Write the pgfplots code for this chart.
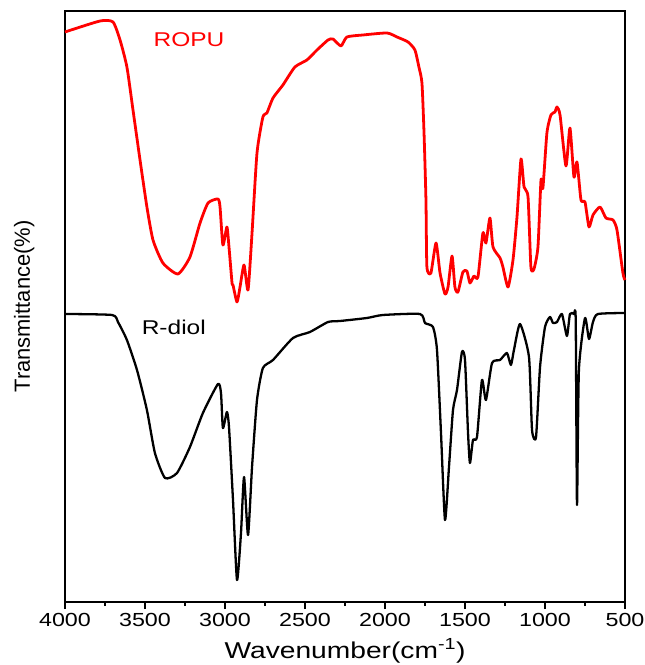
\documentclass[border=0pt]{standalone}
\usepackage{fontspec}
\setmainfont{Liberation Sans}[FakeStretch=1.23]
\newfontfamily\plainsans{Liberation Sans}
\usepackage{pgfplots}
\pgfplotsset{compat=1.18}
\begin{document}
\begin{tikzpicture}
\path[use as bounding box] (-65bp,-63bp) rectangle (580bp,602bp);
\begin{axis}[
  at={(0,0)}, anchor=south west,
  scale only axis, width=560bp, height=591bp,
  x dir=reverse, xmin=500, xmax=4000, ymin=0, ymax=591,
  xtick={500,1000,...,4000}, minor x tick num=1,
  ytick=\empty,
  tick align=outside, xtick pos=bottom,
  major tick length=7bp, minor tick length=4bp,
  every tick/.style={black, line width=1.4pt},
  axis line style={line width=1.6pt},
  /pgf/number format/assume math mode=true,
  /pgf/number format/1000 sep={},
  xticklabel style={font=\fontsize{19}{21}\selectfont, yshift=-1bp},
  xlabel={Wavenumber(cm\textsuperscript{-1})},
  xlabel style={font=\fontsize{23}{25}\selectfont, yshift=-5bp},
  ylabel={\plainsans Transmittance(\%)},
  ylabel style={font=\fontsize{22}{24}\selectfont, yshift=20bp},
  clip=false,
]
\addplot[red, line width=2.8pt, line join=round, smooth, tension=0.35] coordinates {
(4000,570) (3781,581) (3700,580) (3656,562) (3613,535) (3575,492) (3531,442)
(3488,395) (3450,362) (3388,339) (3294,328) (3219,345) (3156,379) (3106,399)
(3044,403) (3031,395) (3013,357) (2988,375) (2975,355) (2956,319) (2950,317)
(2925,300) (2906,315) (2881,337) (2856,312) (2831,369) (2800,449) (2763,485)
(2738,489) (2700,504) (2638,517) (2563,535) (2488,542) (2425,552) (2356,562)
(2325,563) (2275,556) (2238,565) (2138,567) (1988,569) (1925,565) (1856,560)
(1813,552) (1788,535) (1769,519) (1756,469) (1744,402) (1738,335) (1713,329)
(1681,359) (1656,329) (1625,308) (1606,315) (1581,346) (1563,315) (1544,310)
(1513,330) (1488,331) (1469,319) (1444,326) (1419,325) (1388,369) (1369,359)
(1344,384) (1325,355) (1281,344) (1263,335) (1231,315) (1200,342) (1175,385)
(1150,443) (1131,415) (1106,405) (1088,335) (1069,333) (1044,355) (1025,422)
(1013,414) (988,469) (963,487) (938,490) (925,495) (906,487) (869,436)
(844,474) (819,425) (800,440) (775,402) (750,400) (725,375) (700,387)
(656,395) (619,384) (575,382) (550,372) (513,329) (500,322)
};
\addplot[black, line width=2.3pt, line join=round, smooth, tension=0.35] coordinates {
(4000,288) (3706,287) (3669,280) (3613,262) (3550,232) (3488,192) (3438,149)
(3375,124) (3300,129) (3219,155) (3138,189) (3044,218) (3025,209) (3013,174)
(2988,190) (2975,175) (2950,102) (2925,22) (2900,69) (2881,125) (2856,67)
(2831,135) (2800,202) (2763,234) (2700,242) (2575,264) (2469,270) (2356,280)
(2281,281) (2113,284) (2013,287) (1781,288) (1750,279) (1700,275) (1675,252)
(1650,169) (1625,82) (1600,135) (1575,192) (1550,212) (1519,250) (1500,242)
(1481,169) (1469,139) (1450,162) (1425,165) (1394,222) (1369,202) (1331,239)
(1281,242) (1238,249) (1213,237) (1194,252) (1156,278) (1100,245) (1081,172)
(1056,165) (1031,235) (1000,275) (969,285) (950,279) (925,280) (894,288)
(863,266) (844,288) (819,288) (808,282) (800,97) (788,232) (750,284) (725,263)
(700,280) (669,288) (500,289)
};
\node[red, font=\fontsize{20}{22}\selectfont] at (axis cs:3225,562) {ROPU};
\node[black, font=\fontsize{20}{22}\selectfont] at (axis cs:3320,275) {R-diol};
\end{axis}
\end{tikzpicture}
\end{document}
